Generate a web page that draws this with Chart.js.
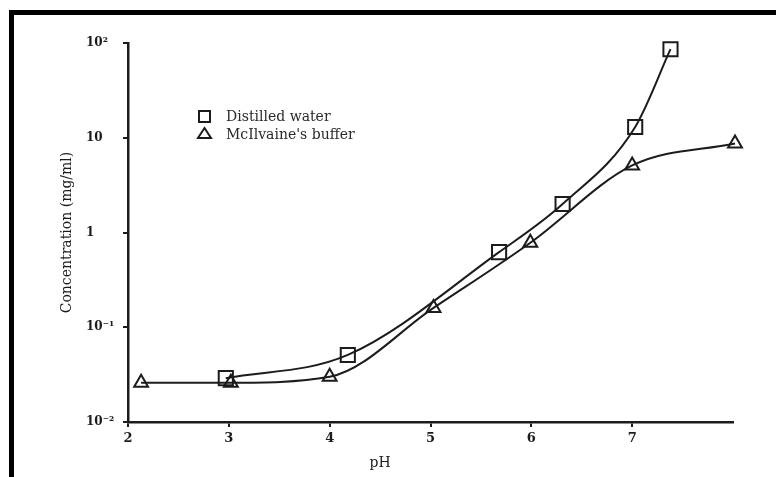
<!DOCTYPE html>
<html>
<head>
<meta charset="utf-8">
<script src="https://cdn.jsdelivr.net/npm/chart.js@4/dist/chart.umd.min.js"></script>
<style>
  html, body { margin: 0; padding: 0; background: #fff; }
  #wrap { position: relative; width: 776px; height: 477px; overflow: hidden; }
  #frame {
    position: absolute; left: 9px; top: 10px; width: 800px; height: 500px;
    border-left: 5px solid #000; border-top: 5px solid #000; pointer-events: none;
  }
</style>
</head>
<body>
<div id="wrap">
  <canvas id="chart" width="776" height="477"></canvas>
  <div id="frame"></div>
</div>
<script>
const phDistilled = [2.97, 4.18, 5.68, 6.31, 7.03, 7.38];
const concDistilled = [0.029, 0.051, 0.62, 2.0, 13.0, 86];
const phBuffer = [2.13, 3.02, 4.0, 5.03, 5.99, 7.0, 8.02];
const concBuffer = [0.026, 0.026, 0.030, 0.16, 0.78, 5.1, 8.7];
const xTicks = [2, 3, 4, 5, 6, 7];
const yTicks = [0.01, 0.1, 1, 10, 100];
const yTickLabels = ["10⁻²", "10⁻¹", "1", "10", "10²"];
const seriesNames = ["Distilled water", "McIlvaine's buffer"];

const ink = "#1c1c1c";
const serif = "'DejaVu Serif', 'Liberation Serif', serif";

const toPoints = (xs, ys) => xs.map((x, i) => ({ x: x, y: ys[i] }));

const extras = {
  id: "extras",
  afterDraw(chart) {
    const c = chart.ctx;
    const xs = chart.scales.x;
    const area = chart.chartArea;
    c.save();
    c.fillStyle = ink;
    c.strokeStyle = ink;
    c.font = "14px " + serif;
    c.textAlign = "center";
    c.textBaseline = "middle";
    // axis titles
    c.fillText("pH", xs.getPixelForValue(4.5), 463);
    c.save();
    c.translate(67, (area.top + area.bottom) / 2);
    c.rotate(-Math.PI / 2);
    c.fillText("Concentration (mg/ml)", 0, 0);
    c.restore();
    // legend
    c.lineWidth = 2;
    c.strokeRect(199, 111, 11, 11);
    c.beginPath();
    c.moveTo(204.5, 128);
    c.lineTo(211, 138);
    c.lineTo(198, 138);
    c.closePath();
    c.stroke();
    c.textAlign = "left";
    c.fillStyle = "#2a2a2a";
    c.fillText(seriesNames[0], 226, 117);
    c.fillText(seriesNames[1], 226, 135);
    c.restore();
  },
};

const ctx = document.getElementById("chart").getContext("2d");
new Chart(ctx, {
  type: "line",
  data: {
    datasets: [
      {
        label: seriesNames[0],
        data: toPoints(phDistilled, concDistilled),
        borderColor: ink,
        borderWidth: 2,
        pointStyle: "rect",
        pointRadius: 10,
        pointBorderWidth: 2,
        pointBorderColor: ink,
        pointBackgroundColor: "rgba(0,0,0,0)",
        cubicInterpolationMode: "monotone",
        clip: false,
      },
      {
        label: seriesNames[1],
        data: toPoints(phBuffer, concBuffer),
        borderColor: ink,
        borderWidth: 2,
        pointStyle: "triangle",
        pointRadius: 8,
        pointBorderWidth: 2,
        pointBorderColor: ink,
        pointBackgroundColor: "rgba(0,0,0,0)",
        cubicInterpolationMode: "monotone",
        clip: false,
      },
    ],
  },
  options: {
    responsive: false,
    animation: false,
    layout: { padding: { left: 86, top: 43, right: 43, bottom: 0 } },
    plugins: { legend: { display: false }, tooltip: { enabled: false } },
    scales: {
      x: {
        type: "linear",
        min: 2,
        max: 8,
        afterBuildTicks: (scale) => {
          scale.ticks = xTicks.map((v) => ({ value: v }));
        },
        afterFit: (scale) => {
          scale.height = 55;
        },
        ticks: {
          color: ink,
          padding: 4,
          font: { family: serif, size: 13, weight: "bold" },
        },
        grid: { drawOnChartArea: false, tickLength: 5, color: ink, lineWidth: 2 },
        border: { color: ink, width: 2.5 },
      },
      y: {
        type: "logarithmic",
        min: 0.01,
        max: 100,
        afterBuildTicks: (scale) => {
          scale.ticks = yTicks.map((v) => ({ value: v }));
        },
        afterFit: (scale) => {
          scale.width = 42;
        },
        ticks: {
          color: ink,
          padding: 6,
          crossAlign: "far",
          font: { family: serif, size: 12, weight: "bold" },
          callback: (v) => yTickLabels[yTicks.indexOf(v)],
        },
        grid: { drawOnChartArea: false, tickLength: 5, color: ink, lineWidth: 2 },
        border: { color: ink, width: 2.5 },
      },
    },
  },
  plugins: [extras],
});
</script>
</body>
</html>
